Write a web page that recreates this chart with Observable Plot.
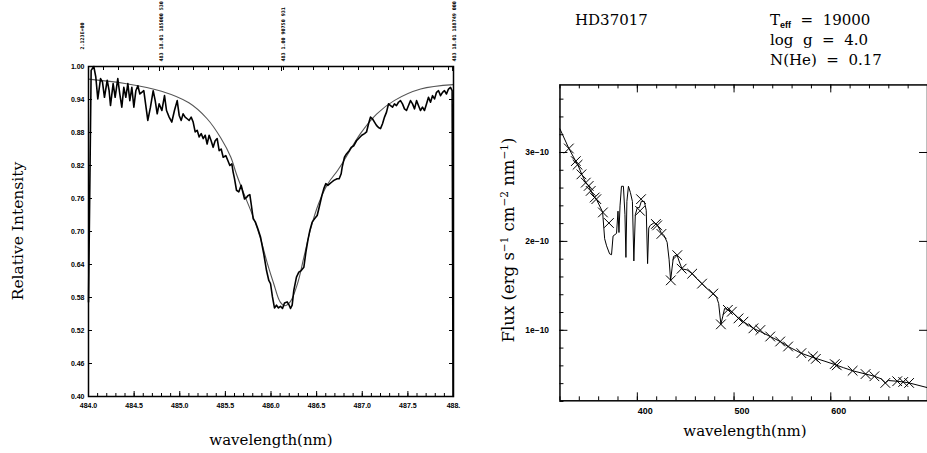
<!DOCTYPE html>
<html><head><meta charset="utf-8">
<script src="https://cdn.jsdelivr.net/npm/d3@7"></script>
<script src="https://cdn.jsdelivr.net/npm/@observablehq/plot@0.6"></script>
<style>
html,body{margin:0;padding:0;background:#fff;overflow:hidden;}
#wrap{position:relative;width:927px;height:453px;overflow:hidden;background:#fff;}
#left{position:absolute;left:0;top:0;}
#right{position:absolute;left:480px;top:0;}
#over{position:absolute;left:0;top:0;pointer-events:none;}
#over text{font-family:"DejaVu Serif",serif;fill:#000;white-space:pre;}
</style></head><body>
<div id="wrap"><div id="left"></div><div id="right"></div><svg id="over" width="927" height="453"></svg></div>
<script>
// ---------- Left panel: H-beta line profile ----------
const obsWl = [484.000,484.029,484.058,484.080,484.102,484.132,484.153,484.175,484.205,484.226,484.241,484.270,484.292,484.321,484.343,484.365,484.387,484.409,484.431,484.453,484.475,484.497,484.519,484.541,484.563,484.584,484.606,484.650,484.679,484.709,484.731,484.753,484.774,484.804,484.833,484.855,484.884,484.913,484.942,484.972,484.994,485.016,485.037,485.059,485.081,485.103,485.125,485.147,485.169,485.191,485.213,485.235,485.257,485.279,485.300,485.322,485.344,485.366,485.388,485.410,485.432,485.454,485.476,485.505,485.527,485.549,485.571,485.585,485.600,485.622,485.647,485.673,485.695,485.710,485.732,485.746,485.768,485.783,485.805,485.830,485.856,485.885,485.921,485.951,485.976,485.995,486.016,486.038,486.060,486.082,486.104,486.126,486.148,486.177,486.199,486.214,486.232,486.250,486.279,486.305,486.331,486.360,486.382,486.404,486.426,486.451,486.477,486.506,486.528,486.557,486.579,486.601,486.623,486.645,486.667,486.689,486.725,486.747,486.769,486.780,486.805,486.827,486.857,486.879,486.908,486.937,486.966,486.995,487.025,487.047,487.069,487.090,487.112,487.134,487.156,487.178,487.200,487.222,487.244,487.266,487.288,487.310,487.332,487.353,487.375,487.397,487.419,487.441,487.463,487.485,487.507,487.529,487.551,487.573,487.595,487.616,487.638,487.660,487.682,487.704,487.726,487.748,487.770,487.792,487.814,487.836,487.858,487.880,487.901,487.923,487.945,487.967,487.985,487.995];
const obsI = [0.572,0.993,1.000,0.981,0.941,0.978,0.972,0.944,0.975,0.956,0.929,0.969,0.944,0.978,0.950,0.926,0.962,0.944,0.969,0.938,0.962,0.926,0.956,0.965,0.950,0.953,0.956,0.902,0.926,0.956,0.938,0.914,0.932,0.920,0.947,0.920,0.908,0.899,0.920,0.938,0.911,0.902,0.914,0.908,0.905,0.902,0.908,0.899,0.881,0.884,0.872,0.878,0.869,0.875,0.859,0.875,0.865,0.853,0.865,0.869,0.847,0.850,0.835,0.838,0.829,0.820,0.823,0.808,0.796,0.775,0.772,0.784,0.769,0.759,0.762,0.765,0.767,0.750,0.723,0.717,0.705,0.690,0.659,0.629,0.611,0.605,0.581,0.561,0.566,0.561,0.564,0.560,0.570,0.572,0.566,0.560,0.566,0.593,0.617,0.626,0.629,0.635,0.662,0.684,0.702,0.717,0.723,0.729,0.744,0.765,0.778,0.787,0.784,0.787,0.790,0.793,0.796,0.796,0.805,0.817,0.835,0.841,0.847,0.853,0.856,0.865,0.870,0.875,0.878,0.881,0.896,0.908,0.905,0.899,0.893,0.889,0.887,0.896,0.908,0.917,0.932,0.929,0.926,0.932,0.929,0.935,0.938,0.932,0.923,0.920,0.929,0.938,0.932,0.923,0.938,0.929,0.920,0.926,0.920,0.932,0.944,0.935,0.947,0.941,0.953,0.956,0.947,0.953,0.956,0.950,0.959,0.962,0.956,0.400];
const modelWl = [484.0,484.4,484.8,485.1,485.3,485.45,485.56,485.62,485.70,485.79,485.88,485.96,486.03,486.10,486.15,486.21,486.29,486.36,486.43,486.52,486.62,486.73,486.80,486.98,487.16,487.35,487.64,488.0];
const modelI = [0.977,0.969,0.955,0.934,0.905,0.870,0.835,0.805,0.770,0.733,0.690,0.642,0.605,0.572,0.565,0.572,0.605,0.653,0.702,0.750,0.786,0.811,0.829,0.878,0.914,0.938,0.959,0.967];
const leftXTicks = [484.0,484.5,485.0,485.5,486.0,486.5,487.0,487.5,488.0];
const leftXTickLabels = ["484.0","484.5","485.0","485.5","486.0","486.5","487.0","487.5","488."];
const leftYTicks = [0.40,0.46,0.52,0.58,0.64,0.70,0.76,0.82,0.88,0.94,1.00];
const lineIdWl = [484.778,486.115,487.99];
const lineIdText = ["483 18.01 185000 530","483 1.00 90750 931","483 18.01 188749 000"];
const scaleNoteWl = [483.91];
const scaleNoteText = ["2.123E+00"];

// ---------- Right panel: spectral energy distribution ----------
const sedWl = [320.0,329.2,336.4,338.5,342.6,346.7,349.7,351.8,355.9,357.9,364.1,366.2,368.2,371.3,373.3,374.9,378.5,380.0,381.0,382.1,383.6,385.6,387.2,388.2,389.2,390.8,392.8,394.9,396.4,397.9,400.0,402.1,404.1,407.2,409.2,410.6,411.8,413.3,417.4,420.5,424.6,427.7,430.8,432.8,434.4,435.9,437.4,441.0,443.1,446.2,451.3,456.4,461.5,466.7,471.8,477.9,482.0,484.1,486.4,488.2,490.2,494.4,497.7,500.5,504.6,509.7,520.0,527.2,537.4,547.7,555.9,569.2,581.5,593.0,604.1,613.0,622.6,636.0,645.1,652.0,656.4,659.5,668.7,674.9,681.0,700.0];
const sedFlux = [3.265,3.045,2.90,2.86,2.754,2.661,2.624,2.568,2.494,2.47,2.33,2.03,1.95,1.86,1.85,2.06,2.09,2.34,2.10,2.40,2.62,2.62,2.30,1.82,2.45,2.62,2.55,2.45,1.78,2.30,2.38,2.38,2.45,2.45,2.35,1.75,2.15,2.18,2.21,2.19,2.10,2.065,1.99,1.80,1.56,1.70,1.83,1.85,1.78,1.69,1.68,1.64,1.58,1.525,1.47,1.413,1.37,1.30,1.067,1.15,1.246,1.227,1.209,1.179,1.134,1.097,1.022,0.985,0.930,0.874,0.818,0.743,0.695,0.655,0.615,0.580,0.545,0.508,0.483,0.455,0.408,0.435,0.427,0.419,0.408,0.355];
const ptWl = [329.2,336.4,338.2,342.2,346.7,349.7,351.8,355.9,357.6,364.4,370.6,402.8,403.8,419.2,420.5,424.9,434.6,441.3,445.8,456.7,466.9,478.5,486.4,493.6,497.7,504.6,509.7,520.0,527.2,537.4,547.7,555.9,569.6,581.5,584.6,604.1,606.2,622.6,636.0,645.1,656.4,668.7,674.9,681.0];
const ptFlux = [3.045,2.903,2.862,2.754,2.661,2.624,2.568,2.494,2.475,2.326,2.207,2.344,2.475,2.196,2.18,2.084,1.562,1.845,1.693,1.637,1.525,1.413,1.067,1.23,1.209,1.134,1.097,1.022,1.003,0.930,0.874,0.818,0.743,0.706,0.679,0.620,0.606,0.545,0.508,0.483,0.408,0.427,0.419,0.408];
const rightXTicks = [400,500,600];
const rightYTicks = [1,2,3];
const rightYLabels = ["1e\u221210","2e\u221210","3e\u221210"];

// ---------- build left ----------
const obsData = obsWl.map((w,i)=>({w, v: obsI[i]}));
const modelData = modelWl.map((w,i)=>({w, v: modelI[i]}));
const LH = 330, LW = 365;
const leftMinor = d3.range(0,41).map(i => 484 + i*0.1);
const leftTop = d3.range(484, 488, 0.1644);
const left = Plot.plot({
  width: 480, height: 453,
  marginLeft: 88, marginRight: 27, marginTop: 66, marginBottom: 57,
  x: {domain: [484, 488]},
  y: {domain: [0.40, 1.00]},
  style: {fontFamily: "'Liberation Sans', Arial, sans-serif", fontSize: "7px", fontWeight: "bold", color: "black", background: "transparent", overflow: "visible"},
  marks: [
    Plot.axisX({ticks: leftXTicks, tickSize: 0, tickPadding: 7, tickFormat: (d,i) => leftXTickLabels[i], anchor: "bottom", label: null}),
    Plot.axisY({ticks: leftYTicks, tickSize: 0, tickPadding: 4, tickFormat: d => d.toFixed(2), anchor: "left", label: null}),
    Plot.tickX(leftMinor, {x: d => d, insetTop: LH - 3, stroke: "black"}),
    Plot.tickX(leftXTicks, {x: d => d, insetTop: LH - 5, stroke: "black"}),
    Plot.tickX(leftTop, {x: d => d, insetBottom: LH - 4, stroke: "black"}),
    Plot.tickY(leftYTicks, {y: d => d, insetRight: LW - 4, stroke: "black"}),
    Plot.tickY(leftYTicks, {y: d => d, insetLeft: LW - 4, stroke: "black"}),
    Plot.tickX(lineIdWl, {x: d => d, insetBottom: LH - 5, stroke: "black"}),
    Plot.text(lineIdText, {x: (d,i) => lineIdWl[i], frameAnchor: "top", dy: -5, rotate: -90, textAnchor: "start", text: d => d, fontSize: 5, fontFamily: "'DejaVu Sans Mono', monospace", fontWeight: "bold"}),
    Plot.text(scaleNoteText, {x: (d,i) => scaleNoteWl[i], frameAnchor: "top", dy: -17, rotate: -90, textAnchor: "start", text: d => d, fontSize: 5, fontFamily: "'DejaVu Sans Mono', monospace", fontWeight: "bold"}),
    Plot.line(modelData, {x: "w", y: "v", stroke: "#555", strokeWidth: 1.1, curve: "catmull-rom"}),
    Plot.line(obsData, {x: "w", y: "v", stroke: "black", strokeWidth: 1.6}),
    Plot.frame({stroke: "black", strokeWidth: 1.5})
  ]
});
document.getElementById("left").appendChild(left);

// ---------- build right ----------
const sedData = sedWl.map((w,i)=>({w, f: sedFlux[i]}));
const ptData = ptWl.map((w,i)=>({w, f: ptFlux[i]}));
const RH = 318, RW = 370;
const rightXMinor = d3.range(320, 701, 20);
const rightYMinor = d3.range(1, 19).map(i => i*0.2);
const right = Plot.plot({
  width: 450, height: 453,
  marginLeft: 80, marginRight: 0, marginTop: 85, marginBottom: 50,
  x: {domain: [320, 700]},
  y: {domain: [0.207, 3.76]},
  style: {fontFamily: "'Liberation Sans', Arial, sans-serif", fontSize: "9px", fontWeight: "bold", color: "black", background: "transparent", overflow: "visible"},
  marks: [
    Plot.axisX({ticks: rightXTicks, tickSize: 0, tickPadding: 7, dx: 8, tickFormat: d => String(d), anchor: "bottom", label: null}),
    Plot.axisY({ticks: rightYTicks, tickSize: 0, tickPadding: 11, fontSize: 8.5, tickFormat: (d,i) => rightYLabels[i], anchor: "left", label: null}),
    Plot.tickX(rightXMinor, {x: d => d, insetTop: RH - 4, stroke: "black"}),
    Plot.tickX(rightXTicks, {x: d => d, insetTop: RH - 8, stroke: "black"}),
    Plot.tickX(rightXMinor, {x: d => d, insetBottom: RH - 4, stroke: "black"}),
    Plot.tickX(rightXTicks, {x: d => d, insetBottom: RH - 8, stroke: "black"}),
    Plot.tickY(rightYMinor, {y: d => d, insetRight: RW - 4, stroke: "black"}),
    Plot.tickY(rightYTicks, {y: d => d, insetRight: RW - 8, stroke: "black"}),
    Plot.tickY(rightYTicks, {y: d => d, insetLeft: RW - 8, stroke: "black"}),
    Plot.line(sedData, {x: "w", y: "f", stroke: "black", strokeWidth: 1}),
    Plot.dot(ptData, {x: "w", y: "f", symbol: "times", r: 4.5, stroke: "black", strokeWidth: 1}),
    Plot.frame({stroke: "black", strokeWidth: 1.5})
  ]
});
document.getElementById("right").appendChild(right);

// ---------- titles and axis labels ----------
const over = d3.select("#over");
over.append("text").attr("transform","translate(23,231) rotate(-90)").attr("text-anchor","middle").attr("font-size",15.5).text("Relative Intensity");
over.append("text").attr("x",271).attr("y",445).attr("text-anchor","middle").attr("font-size",15).text("wavelength(nm)");
over.append("text").attr("x",745).attr("y",436).attr("text-anchor","middle").attr("font-size",15).text("wavelength(nm)");
const fl = over.append("text").attr("transform","translate(514,240) rotate(-90)").attr("text-anchor","middle").attr("font-size",16.5);
fl.append("tspan").text("Flux (erg s");
fl.append("tspan").attr("dy",-6).attr("font-size",10.5).text("\u22121");
fl.append("tspan").attr("dy",6).text(" cm");
fl.append("tspan").attr("dy",-6).attr("font-size",10.5).text("\u22122");
fl.append("tspan").attr("dy",6).text(" nm");
fl.append("tspan").attr("dy",-6).attr("font-size",10.5).text("\u22121");
fl.append("tspan").attr("dy",6).text(")");
over.append("text").attr("x",575).attr("y",25).attr("font-size",15).text("HD37017");
const t1 = over.append("text").attr("x",770).attr("y",25).attr("font-size",15);
t1.append("tspan").text("T");
t1.append("tspan").attr("dy",3).attr("font-size",9).attr("font-weight","bold").attr("font-family","'Liberation Sans',sans-serif").text("eff");
t1.append("tspan").attr("dy",-3).text("  =  19000");
over.append("text").attr("x",770).attr("y",45).attr("font-size",15).text("log  g  =  4.0");
over.append("text").attr("x",770).attr("y",65).attr("font-size",15).text("N(He)  =  0.17");
</script>
</body></html>
